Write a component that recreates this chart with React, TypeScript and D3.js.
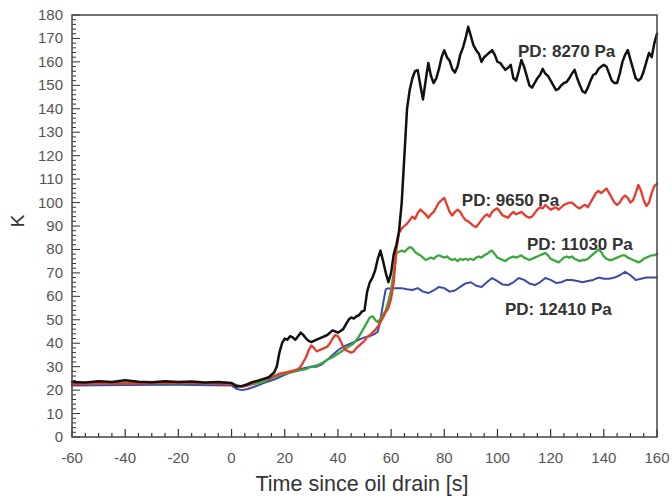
import React from "react";
import * as d3 from "d3";

const W = 672, H = 502;
const M = { left: 72, right: 15, top: 15, bottom: 65 };

const xTicks = [-60, -40, -20, 0, 20, 40, 60, 80, 100, 120, 140, 160];
const yTicks = [0, 10, 20, 30, 40, 50, 60, 70, 80, 90, 100, 110, 120, 130, 140, 150, 160, 170, 180];

// Black: PD 8270 Pa
const tBlack = [-60,-55,-50,-45,-40,-35,-30,-25,-20,-15,-10,-5,0,2,4,6,8,10,12,14,16,17,18,19,20,21,22,23,24,25,26,27,28,29,30,32,34,36,38,40,42,43,44,45,46,47,48,49,50,51,52,53,54,55,56,57,58,59,
  60,61,62,63,64,65,66,67,68,69,
  70,71,72,73,74,75,76,77,78,79,
  80,81,82,83,84,85,86,87,88,89,
  90,91,92,93,94,95,96,97,98,99,
  100,101,102,103,104,105,106,107,108,109,
  110,111,112,113,114,115,116,117,118,119,
  120,121,122,123,124,125,126,127,128,129,
  130,131,132,133,134,135,136,137,138,139,
  140,141,142,143,144,145,146,147,148,149,
  150,151,152,153,154,155,156,157,158,159,
  160];
const vBlack = [23.5,23.2,23.8,23.5,24.2,23.6,23.4,23.8,23.5,23.7,23.2,23.5,23,21.5,21.8,22.5,23.5,24,24.8,25.5,27.5,30,36,40,42,41.5,43,42.5,41.5,43,44.5,43.5,42,41,40.5,41.5,42.5,43.5,45.5,44.5,46,48,50,51,50.5,51.5,52,53.5,54,62,66,68,71,76,79.5,75,70,66,
  70,78,82,88,100,120,140,148,153,156,
  156.5,150,144,152,159.5,154,151,153,157,162,
  165,162,160.5,157,155.5,158,163,166,170,175,
  171,167,165,163.5,160,162,163,164,165,163,
  160,159.6,158,156.6,157.5,158.7,153,152,156,160.8,
  158,154,150,149,151,153,154.4,157,155,154,
  152,150,148,148.5,150,151,151.4,153,155,156.6,
  153,150,147.5,146.8,149,152,154.4,155,157,158,
  158.7,158,155,152,151,151,155,160,163,165,
  161,157,153,152,153,156,160,163.8,162,168,
  172];

// Red: PD 9650 Pa
const tRed = [-60,-50,-40,-30,-20,-10,0,2,4,6,8,10,12,14,16,18,20,22,24,25,26,27,28,29,30,31,32,33,34,35,36,37,38,39,40,41,42,43,44,45,46,47,48,49,50,51,52,53,54,55,56,57,58,59,60,61,62,63,64,65,66,67,68,69,70,71,72,73,74,75,76,77,78,79,80,81,82,83,84,85,86,87,88,89,90,91,92,93,94,95,96,97,98,99,100,101,102,103,104,105,106,107,108,109,110,111,112,113,114,115,116,117,118,119,120,121,122,123,124,125,126,127,128,129,130,131,132,133,134,135,136,137,138,139,140,141,142,143,144,145,146,147,148,149,150,151,152,153,154,155,156,157,158,159,160];
const vRed = [22.5,23,22.8,23,23.2,23,22.5,22,21.5,22,23,24,24.5,25,26,27,27.5,28,28.5,29,30,32,34,37,39,38,36.5,37,37.5,38,38.5,40,42,43.5,43,41,38.5,37,36.5,36,36.5,38,39,40,41,42.7,43.5,44.5,45.6,47,49,51,53.3,55,59,66,80,87,89,90,91,92.5,94,93,95.5,97,96,95,93.5,95,96,98,100,101,102,99,96,94.5,96,97,96,94,92.5,92,91,90,89.5,91,92.5,94,95,94,96,97,97.5,96,94.5,94,93.5,95,96,95,95.5,96,95,94,93.5,94,95.5,97,98,97.5,99,98,97,97.5,98,97,98,99,99.5,100,100,99,98,97.5,98.5,99,98,100,102,104,105,104,105,106,104,102,100,99,100,102,103,102,100,101,104,107.5,105,101,98.5,100,104,107,108];

// Green: PD 11030 Pa
const tGreen = [-60,-40,-20,0,2,4,6,8,10,12,14,16,18,20,22,24,26,28,30,32,34,36,38,40,42,44,46,48,50,51,52,53,54,55,56,57,58,59,60,61,62,63,64,65,66,67,68,69,70,71,72,73,74,75,76,77,78,79,80,81,82,83,84,85,86,87,88,89,90,91,92,93,94,95,96,97,98,99,100,101,102,103,104,105,106,107,108,109,110,111,112,113,114,115,116,117,118,119,120,121,122,123,124,125,126,127,128,129,130,131,132,133,134,135,136,137,138,139,140,141,142,143,144,145,146,147,148,149,150,151,152,153,154,155,156,157,158,159,160];
const vGreen = [22.8,23,23,23,22,21.5,22,22.5,23,23.5,24.5,25.5,26.5,27,27.5,28,28.5,29,30,30.5,31.5,33,34,35.5,37,38.5,40,43,47,49,51,51.5,50,49,50.5,52,54,58,62.7,70,78.5,79,79.5,79,80,81,80.5,79,78,77.5,76.5,75.5,76,76.5,76,77,77.5,77,76.5,77,76,75.5,76,75,76,75.5,76,75.5,76,75.5,76.5,77,76.5,77.5,78,79,79.5,78,76.5,76,75.5,75,76,76.5,77,76.5,77,77.5,76.5,76,75.5,76,76.5,77,77.5,78,78.5,77.5,76,75.5,75,74.5,75.5,76.5,77,76.5,77,76,75.5,75,75.5,75.5,76,77,78,79,80,79,77,76,75.5,75.5,76,76.5,77,77.5,77.5,76.5,76,75.5,75,74.5,75,76,76.5,77,77.5,77.5,78];

// Blue: PD 12410 Pa
const tBlue = [-60,-40,-20,0,2,4,6,8,10,12,14,16,18,20,22,24,26,28,30,32,34,36,38,40,42,44,46,48,50,52,54,55,56,57,58,59,60,61,62,63,64,66,68,70,72,74,76,78,80,82,84,86,88,90,92,94,96,98,100,102,104,106,108,110,112,114,116,118,120,122,124,126,128,130,132,134,136,138,140,142,144,146,148,150,152,154,156,158,160];
const vBlue = [22,22.2,22.3,22,20.5,20,20.5,21.2,22,23,23.8,24.5,25.5,26.5,27.5,28.5,29,29.5,30,30,31,33,35,37,38.5,39.5,40.5,41.5,42.5,43,44,45,50,57,63,63.5,63,63.5,63.5,63.5,63.5,63,62.7,63.5,62,61.4,62.5,64,63.5,62,62.5,64,65.5,66,64.5,64,66,67.8,66.5,65,64.8,66,67.8,67,65.5,64.8,66,67.8,67,65.7,66,67,67,66.5,66,66.5,67,68,67.5,67.5,68,69,70.4,69,67,67.5,68,68,68];

const seriesNames = ["PD: 12410 Pa", "PD: 11030 Pa", "PD: 9650 Pa", "PD: 8270 Pa"];
const seriesColors = ["#3b4aa8", "#3aa83a", "#e8392a", "#111111"];

export default function App() {
  const x = d3.scaleLinear().domain([-60, 160]).range([M.left, W - M.right]);
  const y = d3.scaleLinear().domain([0, 180]).range([H - M.bottom, M.top]);
  const series = [
    { t: tBlue, v: vBlue, c: seriesColors[0], w: 2 },
    { t: tGreen, v: vGreen, c: seriesColors[1], w: 2.3 },
    { t: tRed, v: vRed, c: seriesColors[2], w: 2.3 },
    { t: tBlack, v: vBlack, c: seriesColors[3], w: 2.5 },
  ];
  const line = d3.line<[number, number]>().x(d => x(d[0])).y(d => y(d[1]));
  const xMinor = d3.range(-60, 161, 5);
  const yMinor = d3.range(0, 181, 2);
  const x0 = x(-60), x1 = x(160), y0 = y(0), y1 = y(180);
  const labels = [
    { text: seriesNames[3], xv: 107.7, yv: 162 },
    { text: seriesNames[2], xv: 86.6, yv: 98.5 },
    { text: seriesNames[1], xv: 111.1, yv: 79.8 },
    { text: seriesNames[0], xv: 102.8, yv: 52 },
  ];
  return (
    <svg width={W} height={H} style={{ position: "absolute", left: 0, top: 0, background: "#fff" }}
      fontFamily="'Liberation Sans', Arial, sans-serif">
      <rect x={0} y={0} width={W} height={H} fill="#fff" />
      {xMinor.map(t => (
        <line key={"xm" + t} x1={x(t)} x2={x(t)} y1={y0} y2={y0 - (t % 20 === 0 ? 8 : 4)} stroke="#333" strokeWidth={1.2} />
      ))}
      {yMinor.map(v => (
        <line key={"ym" + v} x1={x0} x2={x0 + (v % 10 === 0 ? 8 : 4)} y1={y(v)} y2={y(v)} stroke="#333" strokeWidth={1} />
      ))}
      {series.map((s, i) => (
        <path key={i} d={line(s.t.map((t, j) => [t, s.v[j]] as [number, number])) || ""} fill="none" stroke={s.c}
          strokeWidth={s.w} strokeLinejoin="round" strokeLinecap="round" />
      ))}
      <rect x={x0} y={y1} width={x1 - x0} height={y0 - y1} fill="none" stroke="#444" strokeWidth={1.5} />
      {xTicks.map(t => (
        <text key={"xt" + t} x={x(t)} y={y0 + 26} textAnchor="middle" fontSize={15} fill="#555">{t}</text>
      ))}
      {yTicks.map(v => (
        <text key={"yt" + v} x={x0 - 9} y={y(v) + 5} textAnchor="end" fontSize={15} fill="#555">{v}</text>
      ))}
      <text x={362} y={491} textAnchor="middle" fontSize={21.5} fill="#333">Time since oil drain [s]</text>
      <text transform="translate(24,221) rotate(-90)" textAnchor="middle" fontSize={19} fill="#333">K</text>
      {labels.map(l => (
        <text key={l.text} x={x(l.xv)} y={y(l.yv)} fontSize={17} fontWeight="bold" fill="#333">{l.text}</text>
      ))}
    </svg>
  );
}
